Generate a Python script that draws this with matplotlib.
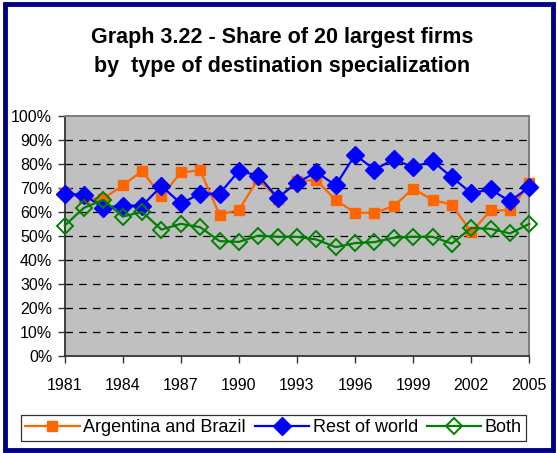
import matplotlib
matplotlib.use("Agg")
import matplotlib.pyplot as plt
from matplotlib.patches import Rectangle

years = list(range(1981, 2006))
argentina_brazil = [68, 65.6, 65.5, 71, 77, 66.4, 76.4, 77.2, 58.8, 60.8, 73.8, 65.4, 72.8,
                    73.2, 64.9, 59.6, 59.6, 62.4, 69.7, 64.9, 63, 51.5, 60.6, 60.6, 71.8]
rest_of_world = [67.6, 67, 61.7, 62.6, 62.6, 70.7, 63.5, 67.5, 67.6, 77, 75.1, 65.8, 72.1,
                 76.5, 71, 83.7, 77.6, 81.8, 78.6, 81.1, 74.4, 67.8, 69.3, 64.4, 70.3]
both = [54.3, 61.7, 65, 58, 60, 52.6, 55, 53.6, 47.8, 47.5, 50.1, 49.6, 49.6,
        48.5, 45.3, 47, 47.4, 49.2, 49.6, 49.6, 46.8, 53.3, 52.9, 51, 55]
x_ticks = list(range(1981, 2006, 3))
y_ticks = list(range(0, 101, 10))
title = "Graph 3.22 - Share of 20 largest firms\nby  type of destination specialization"
labels = ["Argentina and Brazil", "Rest of world", "Both"]

plt.rcParams['font.family'] = ['Liberation Sans', 'DejaVu Sans']

W, H = 557, 453
fig = plt.figure(figsize=(W / 100, H / 100), dpi=100)
fig.patch.set_facecolor('white')

# navy frame around the chart
fig.patches.append(Rectangle((4.5 / W, 3 / H), (548 / W), (446 / H), transform=fig.transFigure,
                             fill=False, edgecolor='#000080', linewidth=3.5, zorder=10))

ax = fig.add_axes([64.7 / W, (H - 356) / H, (529.3 - 64.7) / W, (356 - 115.7) / H])
ax.set_facecolor('#C0C0C0')

l1, = ax.plot(years, argentina_brazil, color='#FF6600', linewidth=1.6, marker='s',
              markersize=6.5, markerfacecolor='#FF6600', markeredgecolor='#FF6600',
              clip_on=False, zorder=3)
l2, = ax.plot(years, rest_of_world, color='#0000FF', linewidth=1.6, marker='D',
              markersize=9, markerfacecolor='#0000FF', markeredgecolor='#0000FF',
              clip_on=False, zorder=4)
l3, = ax.plot(years, both, color='#008000', linewidth=1.6, marker='D',
              markersize=8, markerfacecolor='none', markeredgecolor='#008000',
              markeredgewidth=1.4, clip_on=False, zorder=5)

ax.set_xlim(1981, 2005)
ax.set_ylim(0, 100)
ax.set_xticks(x_ticks)
ax.set_xticklabels([str(v) for v in x_ticks])
ax.set_yticks(y_ticks)
ax.set_yticklabels([f"{v}%" for v in y_ticks])
ax.tick_params(axis='both', direction='out', length=5, width=1, color='#333333',
               labelsize=11.5, labelcolor='black')
ax.tick_params(axis='x', pad=11)
ax.tick_params(axis='y', pad=4)

for v in y_ticks[1:-1]:
    ax.axhline(v, color='black', linewidth=0.9, linestyle=(0, (6, 5)), zorder=1)

ax.spines['left'].set_color('#333333')
ax.spines['bottom'].set_color('#333333')
ax.spines['left'].set_linewidth(1.3)
ax.spines['bottom'].set_linewidth(1.3)
ax.spines['top'].set_color('#808080')
ax.spines['right'].set_color('#808080')
ax.spines['top'].set_linewidth(1.5)
ax.spines['right'].set_linewidth(1.5)

fig.text(282 / W, 1 - 52 / H, title, ha='center', va='center', fontsize=15.5,
         fontweight='bold', linespacing=1.5)

leg = fig.legend([l1, l2, l3], labels, loc='center', ncol=3,
                 bbox_to_anchor=(273.5 / W, 1 - 428 / H), frameon=True, fancybox=False,
                 edgecolor='black', fontsize=13, handlelength=3.0, handletextpad=0.2,
                 columnspacing=0.5, borderpad=0.25)
leg.get_frame().set_linewidth(0.9)

fig.savefig("out.png", dpi=100)
